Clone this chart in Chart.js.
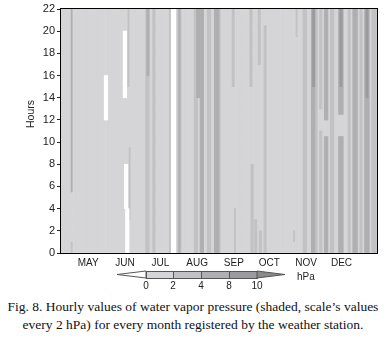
<!DOCTYPE html>
<html>
<head>
<meta charset="utf-8">
<script src="https://cdn.jsdelivr.net/npm/chart.js@4"></script>
<style>
  html, body { margin: 0; padding: 0; background: #fff; }
  #wrap { position: relative; width: 386px; height: 341px; overflow: hidden; }
  #chart { position: absolute; left: 0; top: 0; }
  #caption {
    position: absolute; left: 0; top: 298px; width: 386px; text-align: center;
    font-family: "Liberation Serif", "Times New Roman", serif; font-size: 13.5px;
    line-height: 18px; color: #111; white-space: nowrap;
  }
</style>
</head>
<body>
<div id="wrap">
  <canvas id="chart" width="386" height="295"></canvas>
  <div id="caption">Fig. 8. Hourly values of water vapor pressure (shaded, scale’s values<br>every 2 hPa) for every month registered by the weather station.</div>
</div>
<script>
// x axis runs in day of year, y in hours
const firstDay = 98;
const lastDay = 365;
const monthStarts = [121, 152, 182, 213, 244, 274, 305, 335];
const monthNames = ['MAY', 'JUN', 'JUL', 'AUG', 'SEP', 'OCT', 'NOV', 'DEC'];
const maxHour = 22;

// days with no record at all
const missingDays = [191, 192, 193, 194, 195];

// shorter holes in the record (first day, number of days, hour range)
const gapStart = [135, 151, 152, 153];
const gapLen   = [3, 3, 3, 3];
const gapFrom  = [12, 14, 4, 0];
const gapTo    = [16, 20, 8, 4];

// streaks above the 0-2 hPa class (first day, number of days, hour range, class)
const streakStart = [107, 107, 155, 156, 170, 171, 176, 190, 197, 198, 211, 216, 222, 228, 213, 231,
                     243, 245, 258, 259, 262, 265, 266, 270, 295, 297,
                     303, 310, 311, 313, 317, 317, 321, 321, 326, 333, 333, 334, 341, 345, 351, 355, 356, 361];
const streakLen   = [1, 1, 1, 1, 3, 2, 2, 1, 3, 1, 3, 3, 3, 4, 3, 2,
                     2, 1, 2, 2, 2, 2, 2, 2, 1, 1,
                     3, 3, 2, 2, 2, 2, 3, 3, 3, 4, 4, 2, 2, 4, 2, 4, 2, 4];
const streakFrom  = [5.5, 0, 15, 3, 0, 16, 0, 0, 0, 0, 0, 0, 0, 0, 14, 0,
                     15, 0, 15, 0, 0, 17, 0, 0, 1, 19.5,
                     0, 0, 15, 0, 13, 0, 12, 0, 0, 12.5, 0, 15, 0, 0, 0, 0, 14, 0];
const streakTo    = [22, 1, 22, 9.5, 22, 22, 22, 22, 22, 22, 22, 22, 22, 22, 22, 22,
                     22, 4, 22, 8, 3, 22, 2, 20.5, 2, 22,
                     22, 22, 22, 22, 22, 11, 22, 10.5, 22, 22, 10.5, 22, 22, 22, 22, 22, 22, 22];
const streakLevel = [2, 1, 1, 1, 1, 2, 1, 1, 1, 2, 1, 2, 1, 2, 2, 1,
                     1, 1, 1, 1, 1, 1, 1, 1, 1, 1,
                     1, 2, 3, 1, 1, 1, 2, 2, 1, 2, 2, 3, 1, 2, 1, 2, 3, 1];

// colour scale
const levelColors = ['#d5d5d7', '#c2c2c4', '#afafb1', '#9b9b9d', '#8b8b8d'];
const legendBounds = ['0', '2', '4', '8', '10'];

function buildLayers() {
  const layers = [[], [], [], []];
  const blank = [];
  for (let d = firstDay; d <= lastDay; d++) {
    if (!missingDays.includes(d)) layers[0].push({ x: d, y: [0, maxHour] });
  }
  streakStart.forEach((s, i) => {
    for (let k = 0; k < streakLen[i]; k++) {
      layers[streakLevel[i]].push({ x: s + k, y: [streakFrom[i], streakTo[i]] });
    }
  });
  gapStart.forEach((s, i) => {
    for (let k = 0; k < gapLen[i]; k++) blank.push({ x: s + k, y: [gapFrom[i], gapTo[i]] });
  });
  return { layers, blank };
}

const framePlugin = {
  id: 'frame',
  afterDraw(chart) {
    const { ctx, chartArea: a } = chart;
    ctx.save();
    ctx.strokeStyle = '#000';
    ctx.lineWidth = 1;
    ctx.strokeRect(Math.round(a.left) - 0.5, Math.round(a.top) - 0.5,
                   Math.round(a.right - a.left) + 1, Math.round(a.bottom - a.top) + 1);

    // axis title
    ctx.fillStyle = '#222';
    ctx.font = '10.5px "Liberation Sans", Arial, sans-serif';
    ctx.textAlign = 'center';
    ctx.textBaseline = 'middle';
    ctx.translate(31, 114);
    ctx.rotate(-Math.PI / 2);
    ctx.fillText('Hours', 0, 0);
    ctx.restore();

    // colour bar
    const edges = [146, 173, 201, 229, 257];
    const top = 271, bot = 278, mid = (top + bot) / 2;
    ctx.save();
    ctx.strokeStyle = '#555';
    ctx.lineWidth = 1;
    ctx.beginPath();
    ctx.moveTo(117, mid);
    ctx.lineTo(edges[0], top);
    ctx.lineTo(edges[0], bot);
    ctx.closePath();
    ctx.fillStyle = '#fff';
    ctx.fill();
    ctx.stroke();
    for (let i = 0; i < 4; i++) {
      ctx.fillStyle = levelColors[i];
      ctx.fillRect(edges[i], top, edges[i + 1] - edges[i], bot - top);
      ctx.strokeRect(edges[i] + 0.5, top + 0.5, edges[i + 1] - edges[i], bot - top);
    }
    ctx.beginPath();
    ctx.moveTo(edges[4], top);
    ctx.lineTo(285, mid);
    ctx.lineTo(edges[4], bot);
    ctx.closePath();
    ctx.fillStyle = levelColors[4];
    ctx.fill();
    ctx.stroke();

    ctx.fillStyle = '#222';
    ctx.font = '10px "Liberation Sans", Arial, sans-serif';
    ctx.textAlign = 'center';
    ctx.textBaseline = 'middle';
    legendBounds.forEach((t, i) => ctx.fillText(t, edges[i], 286));
    ctx.textAlign = 'left';
    ctx.fillText('hPa', 297, 277);
    ctx.restore();
  }
};

function initChart() {
  const { layers, blank } = buildLayers();
  const bar = (data, color, order) => ({
    data, backgroundColor: color, borderWidth: 0, order,
    barPercentage: 1, categoryPercentage: 1, grouped: false
  });

  new Chart(document.getElementById('chart'), {
    type: 'bar',
    data: {
      datasets: [
        bar(blank, '#ffffff', 0),
        bar(layers[3], levelColors[3], 1),
        bar(layers[2], levelColors[2], 2),
        bar(layers[1], levelColors[1], 3),
        bar(layers[0], levelColors[0], 4)
      ]
    },
    options: {
      responsive: false,
      animation: false,
      devicePixelRatio: 1,
      layout: { padding: { top: 9, right: 9, left: 0, bottom: 0 } },
      plugins: { legend: { display: false }, tooltip: { enabled: false } },
      scales: {
        x: {
          type: 'linear',
          min: firstDay,
          max: lastDay,
          offset: false,
          grid: { display: false, drawTicks: false, tickLength: 0 },
          border: { display: false },
          afterBuildTicks: (s) => { s.ticks = monthStarts.map(v => ({ value: v })); },
          afterFit: (s) => { s.height = 42; },
          ticks: {
            autoSkip: false,
            maxRotation: 0,
            padding: 4,
            color: '#222',
            font: { family: '"Liberation Sans", Arial, sans-serif', size: 10 },
            callback: (v) => monthNames[monthStarts.indexOf(v)]
          }
        },
        y: {
          min: 0,
          max: maxHour,
          z: 1,
          afterFit: (s) => { s.width = 61; },
          border: { display: false },
          grid: { color: 'rgba(255,255,255,0.35)', tickColor: '#222', tickLength: 4 },
          ticks: {
            stepSize: 2,
            padding: 2,
            color: '#222',
            font: { family: '"Liberation Sans", Arial, sans-serif', size: 11 }
          }
        }
      }
    },
    plugins: [framePlugin]
  });
}

document.addEventListener('DOMContentLoaded', initChart);
</script>
</body>
</html>
